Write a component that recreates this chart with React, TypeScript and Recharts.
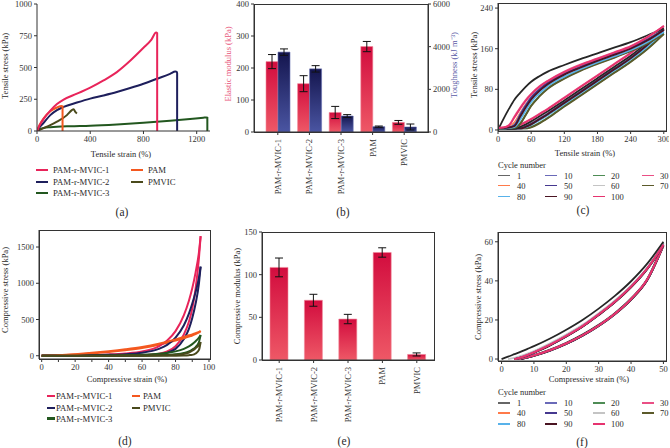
import React from 'react';
import { LineChart, Line, XAxis, YAxis, BarChart, Bar, ErrorBar } from 'recharts';

const FONT = '"Liberation Serif", "Times New Roman", Times, serif';
const AX = '#333';
const TXT = '#2a2a2a';

// ---------- colours ----------
const C_M1 = '#e8245a';
const C_M2 = '#1e1f5c';
const C_M3 = '#22571f';
const C_PAM = '#f4581f';
const C_PMVIC = '#4a4a1c';

// ---------- panel (a): tensile curves ----------
const aM1Strain = [0, 20, 50, 100, 150, 200, 300, 400, 500, 600, 700, 800, 860, 895, 903, 903];
const aM1Stress = [0, 45, 95, 160, 212, 247, 294, 341, 398, 464, 553, 655, 720, 775, 770, 0];
const aM2Strain = [0, 20, 50, 100, 150, 200, 300, 400, 500, 600, 700, 800, 900, 1000, 1040, 1050, 1053, 1053];
const aM2Stress = [0, 30, 65, 125, 164, 190, 224, 255, 280, 307, 338, 372, 411, 450, 468, 465, 455, 0];
const aM3Strain = [0, 20, 50, 100, 150, 250, 400, 600, 800, 1000, 1150, 1250, 1272, 1280, 1280];
const aM3Stress = [0, 15, 24, 30, 34, 38, 42, 52, 65, 81, 95, 105, 107, 105, 0];
const aPamStrain = [0, 20, 50, 100, 150, 185, 192, 192];
const aPamStress = [0, 50, 100, 155, 185, 196, 194, 0];
const aPmvicStrain = [0, 75, 150, 225, 262, 275, 288, 300];
const aPmvicStress = [0, 34, 73, 125, 164, 172, 150, 138];

// ---------- panel (b): elastic modulus & toughness ----------
const sampleNames = ['PAM-r-MVIC-1', 'PAM-r-MVIC-2', 'PAM-r-MVIC-3', 'PAM', 'PMVIC'];
const bModulus = [220, 151, 61, 267, 30];
const bModulusErr = [22, 25, 19, 16, 6];
const bTough = [3745, 2960, 750, 250, 235];
const bToughErr = [150, 150, 65, 30, 140];

// ---------- panel (c): tensile cycles ----------
const cycleLabels = ['1', '10', '20', '30', '40', '50', '60', '70', '80', '90', '100'];
const cycleColors = ['#262626', '#6a6ab8', '#4e8c55', '#ea4f85', '#ff7a4a', '#45388f', '#c4c4c4', '#5b5a2a', '#58b2ea', '#4a1422', '#e6336f'];
const legendSwatch = ['#666666', '#6a6ab8', '#4e8c55', '#ea4f85', '#ff7a4a', '#45388f', '#c4c4c4', '#5b5a2a', '#58b2ea', '#4a1422', '#e6336f'];

const cStrain = [0, 10, 20, 30, 40, 50, 60, 75, 90, 120, 150, 180, 210, 240, 270, 300];
const cLoad1 = [0, 22, 42, 60, 73, 85, 95, 106, 115, 128, 140, 151, 162, 173, 186, 200];
const cLoad10 = [3, 4, 5, 9, 27, 45, 61, 78, 91, 110, 124, 137, 149, 161, 177, 197];
const cLoad20 = [3, 3, 4, 5, 13, 30, 48, 67, 82, 102, 118, 131, 143, 156, 171, 190];
const cLoad30 = [4, 5, 10, 27, 44, 59, 71, 86, 97, 115, 129, 141, 153, 165, 183, 204];
const cLoad40 = [3, 4, 6, 15, 33, 50, 64, 80, 93, 112, 126, 139, 151, 163, 179, 199];
const cLoad50 = [3, 4, 5, 10, 30, 48, 64, 80, 93, 111, 125, 138, 150, 162, 178, 198];
const cLoad60 = [3, 4, 5, 11, 31, 49, 65, 81, 94, 112, 126, 139, 151, 163, 179, 199];
const cLoad70 = [3, 3, 4, 4, 12, 29, 47, 66, 81, 101, 117, 130, 142, 155, 170, 189];
const cLoad80 = [3, 3, 4, 6, 20, 38, 55, 72, 86, 105, 120, 133, 145, 157, 173, 193];
const cLoad90 = [3, 4, 5, 8, 26, 44, 60, 77, 90, 109, 123, 136, 148, 160, 176, 197];
const cLoad100 = [4, 5, 9, 25, 42, 57, 70, 85, 96, 114, 128, 140, 152, 164, 182, 205];

const cUnload1 = [2, 2, 2, 2, 6, 11, 17, 27, 37, 58, 80, 102, 124, 146, 172, 200];
const cUnload10 = [3, 3, 3, 3, 3, 6, 11, 20, 30, 52, 74, 96, 118, 140, 166, 197];
const cUnload20 = [3, 3, 3, 3, 3, 3, 6, 14, 24, 47, 69, 91, 113, 135, 160, 190];
const cUnload30 = [4, 4, 5, 7, 11, 16, 22, 32, 42, 64, 86, 108, 130, 152, 177, 204];
const cUnload40 = [3, 3, 3, 3, 4, 8, 13, 22, 32, 54, 76, 98, 120, 142, 168, 199];
const cUnload50 = [3, 3, 3, 3, 3, 7, 12, 22, 32, 54, 76, 98, 120, 142, 168, 198];
const cUnload60 = [3, 3, 3, 3, 4, 8, 13, 23, 33, 55, 77, 99, 121, 143, 168, 199];
const cUnload70 = [3, 3, 3, 3, 3, 3, 5, 13, 23, 46, 68, 90, 112, 134, 159, 189];
const cUnload80 = [3, 3, 3, 3, 3, 5, 10, 19, 29, 51, 73, 95, 117, 139, 164, 193];
const cUnload90 = [3, 3, 3, 3, 3, 6, 11, 21, 31, 53, 75, 97, 119, 141, 167, 197];
const cUnload100 = [4, 4, 5, 7, 10, 15, 21, 31, 41, 63, 85, 107, 129, 151, 177, 205];

// ---------- panel (d): compressive curves ----------
const dStrain = [0, 10, 20, 30, 40, 50, 60, 70, 75, 80, 85, 88, 90, 92, 94, 95];
const dM1Load = [0, 2, 5, 10, 18, 32, 60, 130, 210, 340, 560, 760, 930, 1150, 1430, 1650];
const dM1Unload = [0, 0, 0, 1, 1, 3, 8, 28, 60, 130, 295, 470, 650, 930, 1350, 1650];
const dM2Load = [0, 1, 3, 6, 12, 22, 42, 95, 150, 250, 420, 580, 720, 880, 1080, 1230];
const dM2Unload = [0, 0, 0, 0, 0, 2, 5, 18, 40, 95, 230, 370, 520, 720, 1000, 1230];
const dM3Load = [0, 0, 1, 2, 5, 9, 15, 28, 40, 60, 95, 130, 160, 200, 250, 285];
const dM3Unload = [0, 0, 0, 0, 0, 1, 3, 8, 13, 20, 38, 60, 85, 120, 190, 285];
const dPamLoad = [0, 8, 22, 40, 62, 88, 120, 165, 193, 225, 258, 282, 295, 312, 330, 340];
const dPamUnload = [0, 6, 17, 32, 52, 76, 106, 150, 178, 210, 242, 264, 280, 300, 322, 340];
const dPmvicLoad = [0, 0, 0, 0, 1, 2, 3, 6, 8, 12, 25, 45, 70, 105, 150, 190];
const dPmvicUnload = [0, 0, 0, 0, 0, 0, 0, 0, 0, 1, 4, 8, 12, 30, 80, 190];

// ---------- panel (e): compressive modulus ----------
const eModulus = [108.5, 70, 48, 126, 6.5];
const eModulusErr = [11, 7, 5.5, 5.5, 1.8];

// ---------- panel (f): compressive cycles ----------
const fStrain = [0, 2, 4, 6, 8, 10, 15, 20, 25, 30, 35, 40, 45, 50];
const fLoad1 = [0, 1.2, 2.5, 3.8, 5.2, 6.6, 10.5, 15, 20, 25.8, 32.3, 39.8, 48.8, 60];
const fLoad10 = [null, null, 0, 0.9, 2.1, 3.5, 7.4, 11.9, 16.9, 22.9, 29.4, 37.1, 46.4, 58.6];
const fLoad20 = [null, null, 0, 0.8, 2.0, 3.4, 7.3, 11.8, 16.8, 22.8, 29.3, 37.0, 46.3, 58.5];
const fLoad30 = [null, null, 0, 0.9, 2.1, 3.5, 7.4, 11.9, 16.9, 22.9, 29.4, 37.1, 46.4, 58.5];
const fLoad40 = [null, null, 0, 0.8, 2.0, 3.4, 7.2, 11.7, 16.7, 22.7, 29.2, 36.9, 46.2, 58.4];
const fLoad50 = [null, null, 0, 0.8, 1.9, 3.3, 7.2, 11.7, 16.7, 22.7, 29.2, 36.9, 46.2, 58.3];
const fLoad60 = [null, 0, 0.6, 1.6, 2.8, 4.1, 8.0, 12.5, 17.5, 23.5, 30.0, 37.6, 46.8, 59.0];
const fLoad70 = [null, null, 0, 0.7, 1.9, 3.3, 7.1, 11.6, 16.6, 22.6, 29.1, 36.8, 46.1, 58.2];
const fLoad80 = [null, null, 0, 0.7, 1.8, 3.2, 7.1, 11.6, 16.6, 22.6, 29.1, 36.8, 46.1, 58.2];
const fLoad90 = [null, null, 0, 0.7, 1.8, 3.2, 7.0, 11.5, 16.5, 22.5, 29.0, 36.7, 46.0, 58.1];
const fLoad100 = [null, null, 0, 0.8, 2.0, 3.4, 7.3, 11.8, 16.8, 22.8, 29.3, 37.0, 46.3, 58.5];

const fUnload1 = [null, null, 0, 0.4, 1.1, 2.0, 4.8, 8.3, 12.5, 17.5, 23.5, 31.0, 41.0, 59.2];
const fUnload10 = [null, null, 0, 0.3, 1.0, 1.9, 4.6, 8.0, 12.2, 17.2, 23.2, 30.7, 40.7, 58.4];
const fUnload20 = [null, null, null, 0, 0.8, 1.7, 4.4, 7.8, 12.0, 17.0, 23.0, 30.5, 40.5, 58.3];
const fUnload30 = [null, null, 0, 0.3, 1.0, 1.9, 4.6, 8.0, 12.2, 17.2, 23.2, 30.7, 40.8, 58.3];
const fUnload40 = [null, null, null, 0, 0.8, 1.7, 4.4, 7.8, 12.0, 17.0, 23.0, 30.5, 40.5, 58.2];
const fUnload50 = [null, null, null, 0, 0.8, 1.7, 4.4, 7.8, 12.0, 17.0, 23.0, 30.5, 40.4, 58.1];
const fUnload60 = [null, null, 0, 0.4, 1.1, 2.0, 4.7, 8.1, 12.3, 17.3, 23.3, 30.8, 40.8, 58.8];
const fUnload70 = [null, null, null, 0, 0.7, 1.6, 4.3, 7.7, 11.9, 16.9, 22.9, 30.4, 40.4, 58.0];
const fUnload80 = [null, null, null, 0, 0.7, 1.6, 4.3, 7.7, 11.9, 16.9, 22.9, 30.4, 40.4, 58.0];
const fUnload90 = [null, null, null, 0, 0.7, 1.6, 4.3, 7.7, 11.9, 16.9, 22.9, 30.3, 40.3, 57.9];
const fUnload100 = [null, null, 0, 0.3, 1.0, 1.9, 4.6, 8.0, 12.2, 17.2, 23.2, 30.7, 40.7, 58.3];

// ---------- helpers ----------
const zip = (xs: number[], ys: number[]) => xs.map((x, i) => ({ x, y: ys[i] }));

const cLoads = [cLoad1, cLoad10, cLoad20, cLoad30, cLoad40, cLoad50, cLoad60, cLoad70, cLoad80, cLoad90, cLoad100];
const cUnloads = [cUnload1, cUnload10, cUnload20, cUnload30, cUnload40, cUnload50, cUnload60, cUnload70, cUnload80, cUnload90, cUnload100];
const fLoads = [fLoad1, fLoad10, fLoad20, fLoad30, fLoad40, fLoad50, fLoad60, fLoad70, fLoad80, fLoad90, fLoad100];
const fUnloads = [fUnload1, fUnload10, fUnload20, fUnload30, fUnload40, fUnload50, fUnload60, fUnload70, fUnload80, fUnload90, fUnload100];
const drawOrder = [4, 6, 2, 1, 7, 8, 5, 9, 0, 3, 10];

function cycleTable(grid: number[], loads: (number | null)[][], unloads: (number | null)[][]) {
  return grid.map((x, i) => {
    const row: any = { x };
    cycleLabels.forEach((c, j) => {
      row['L' + c] = loads[j][i];
      row['U' + c] = unloads[j][i];
    });
    return row;
  });
}
const cData = cycleTable(cStrain, cLoads, cUnloads);
const fData = cycleTable(fStrain, fLoads, fUnloads);

const dSeries = [
  { key: 'm1', color: C_M1, load: dM1Load, unload: dM1Unload },
  { key: 'm2', color: C_M2, load: dM2Load, unload: dM2Unload },
  { key: 'pam', color: C_PAM, load: dPamLoad, unload: dPamUnload },
  { key: 'm3', color: C_M3, load: dM3Load, unload: dM3Unload },
  { key: 'pmvic', color: C_PMVIC, load: dPmvicLoad, unload: dPmvicUnload },
];
const dData = dStrain.map((x, i) => {
  const row: any = { x };
  dSeries.forEach((s) => {
    row[s.key + 'L'] = s.load[i];
    row[s.key + 'U'] = s.unload[i];
  });
  return row;
});

const aSeries = [
  { name: 'PAM-r-MVIC-3', color: C_M3, pts: zip(aM3Strain, aM3Stress) },
  { name: 'PMVIC', color: C_PMVIC, pts: zip(aPmvicStrain, aPmvicStress) },
  { name: 'PAM-r-MVIC-2', color: C_M2, pts: zip(aM2Strain, aM2Stress) },
  { name: 'PAM', color: C_PAM, pts: zip(aPamStrain, aPamStress) },
  { name: 'PAM-r-MVIC-1', color: C_M1, pts: zip(aM1Strain, aM1Stress) },
];

const bData = sampleNames.map((name, i) => ({
  name,
  mod: bModulus[i],
  modErr: bModulusErr[i],
  tough: bTough[i],
  toughErr: bToughErr[i],
}));
const eData = sampleNames.map((name, i) => ({ name, mod: eModulus[i], modErr: eModulusErr[i] }));

const tickStyle = { fontSize: 8.5, fontFamily: FONT, fill: '#333' };

type Rect = { x0: number; y0: number; x1: number; y1: number };
function place(r: Rect, L: number, T: number, R: number, B: number) {
  return {
    left: r.x0 - L,
    top: r.y0 - T,
    width: r.x1 - r.x0 + L + R,
    height: r.y1 - r.y0 + T + B,
  };
}

const Txt = ({ x, y, children, size = 8.5, color = TXT, rot = false, left = false }: any) => (
  <div
    style={{
      position: 'absolute',
      left: x,
      top: y,
      transform: `translate(${left ? '0' : '-50%'}, -50%)${rot ? ' rotate(-90deg)' : ''}`,
      fontFamily: FONT,
      fontSize: size,
      color,
      whiteSpace: 'nowrap',
      lineHeight: 1,
    }}
  >
    {children}
  </div>
);

const Swatch = ({ x, y, w, color, h = 2 }: any) => (
  <div style={{ position: 'absolute', left: x, top: y - h / 2, width: w, height: h, background: color }} />
);

const Box = ({ r }: { r: Rect }) => (
  <div
    style={{
      position: 'absolute',
      left: r.x0,
      top: r.y0,
      width: r.x1 - r.x0 + 1,
      height: r.y1 - r.y0 + 1,
      border: '1px solid #333',
      boxSizing: 'border-box',
      pointerEvents: 'none',
    }}
  />
);

const RotTick = (props: any) => {
  const { x, y, payload } = props;
  const yy = y + 2;
  return (
    <text
      x={x}
      y={yy}
      transform={`rotate(-90 ${x} ${yy})`}
      textAnchor="end"
      dominantBaseline="central"
      fontSize={8.5}
      fontFamily={FONT}
      fill="#333"
    >
      {payload.value}
    </text>
  );
};

const CycleLegend = ({ top }: { top: number }) => {
  const colX = [498, 545, 593, 642];
  const textX = [517, 564, 611, 660];
  const rowY = [top + 11, top + 21, top + 32];
  return (
    <>
      <Txt x={498} y={top} left size={8.5}>Cycle number</Txt>
      {cycleLabels.map((c, i) => {
        const r = Math.floor(i / 4);
        const col = i % 4;
        return (
          <React.Fragment key={c}>
            <Swatch x={colX[col]} y={rowY[r]} w={12} color={legendSwatch[i]} h={1.6} />
            <Txt x={textX[col]} y={rowY[r]} left size={8.5}>{c}</Txt>
          </React.Fragment>
        );
      })}
    </>
  );
};

// plot rectangles (page pixels)
const A: Rect = { x0: 37, y0: 4, x1: 210, y1: 131 };
const B: Rect = { x0: 254, y0: 4, x1: 428, y1: 132 };
const C: Rect = { x0: 498, y0: 3, x1: 666, y1: 131 };
const D: Rect = { x0: 39, y0: 230, x1: 210, y1: 359 };
const E: Rect = { x0: 262, y0: 232, x1: 434, y1: 360 };
const F: Rect = { x0: 498, y0: 232, x1: 666, y1: 361 };

export default function App() {
  const pa = place(A, 32, 6, 6, 16);
  const pb = place(B, 28, 6, 30, 64);
  const pc = place(C, 30, 6, 3, 16);
  const pd = place(D, 30, 6, 6, 16);
  const pe = place(E, 28, 6, 6, 64);
  const pf = place(F, 30, 6, 3, 16);

  return (
    <div style={{ position: 'absolute', left: 0, top: 0, width: 670, height: 448, background: '#fff', overflow: 'hidden' }}>
      {/* ---------- (a) ---------- */}
      <div style={{ position: 'absolute', left: pa.left, top: pa.top }}>
        <LineChart width={pa.width} height={pa.height} margin={{ top: 6, right: 6, left: 0, bottom: 0 }}>
          <XAxis type="number" dataKey="x" domain={[0, 1300]} ticks={[0, 400, 800, 1200]} interval={0} height={16} tickSize={3} tick={tickStyle} stroke={AX} allowDataOverflow />
          <YAxis type="number" dataKey="y" domain={[0, 1000]} ticks={[0, 250, 500, 750, 1000]} interval={0} width={32} tickSize={3} tick={tickStyle} stroke={AX} allowDataOverflow />
          {aSeries.map((s) => (
            <Line key={s.name} data={s.pts} dataKey="y" type="monotone" stroke={s.color} strokeWidth={2} dot={false} isAnimationActive={false} />
          ))}
        </LineChart>
      </div>
      <Txt x={5} y={66} rot>Tensile stress (kPa)</Txt>
      <Txt x={121} y={154}>Tensile strain (%)</Txt>
      <Swatch x={36} y={170} w={12} color={C_M1} />
      <Txt x={53} y={170} left size={8.7}>PAM-r-MVIC-1</Txt>
      <Swatch x={36} y={182} w={12} color={C_M2} />
      <Txt x={53} y={182} left size={8.7}>PAM-r-MVIC-2</Txt>
      <Swatch x={36} y={193} w={12} color={C_M3} />
      <Txt x={53} y={193} left size={8.7}>PAM-r-MVIC-3</Txt>
      <Swatch x={131} y={170} w={12} color={C_PAM} />
      <Txt x={148} y={170} left size={8.7}>PAM</Txt>
      <Swatch x={131} y={182} w={12} color={C_PMVIC} />
      <Txt x={148} y={182} left size={8.7}>PMVIC</Txt>
      <Txt x={122} y={213} size={11.5}>(a)</Txt>

      {/* ---------- (b) ---------- */}
      <div style={{ position: 'absolute', left: pb.left, top: pb.top }}>
        <BarChart width={pb.width} height={pb.height} data={bData} margin={{ top: 6, right: 0, left: 0, bottom: 0 }} barGap={0}>
          <defs>
            <linearGradient id="pinkGrad" x1="0" y1="0" x2="0" y2="1">
              <stop offset="0%" stopColor="#d20c3e" />
              <stop offset="100%" stopColor="#ee5866" />
            </linearGradient>
            <linearGradient id="navyGrad" x1="0" y1="0" x2="0" y2="1">
              <stop offset="0%" stopColor="#14154e" />
              <stop offset="100%" stopColor="#4a55a2" />
            </linearGradient>
          </defs>
          <XAxis dataKey="name" height={64} tickSize={3} tick={<RotTick />} interval={0} stroke={AX} padding={{ left: 8, right: 8 }} />
          <YAxis yAxisId="l" domain={[0, 400]} ticks={[0, 100, 200, 300, 400]} interval={0} width={28} tickSize={3} tick={tickStyle} stroke={AX} />
          <YAxis yAxisId="r" orientation="right" domain={[0, 6000]} ticks={[0, 2000, 4000, 6000]} interval={0} width={30} tickSize={3} tick={tickStyle} stroke={AX} />
          <Bar yAxisId="l" dataKey="mod" barSize={12} fill="url(#pinkGrad)" stroke="#f28a9a" strokeWidth={0.6} isAnimationActive={false}>
            <ErrorBar dataKey="modErr" width={4} stroke="#111" strokeWidth={1} direction="y" />
          </Bar>
          <Bar yAxisId="r" dataKey="tough" barSize={12} fill="url(#navyGrad)" stroke="#6a72b4" strokeWidth={0.6} isAnimationActive={false}>
            <ErrorBar dataKey="toughErr" width={4} stroke="#111" strokeWidth={1} direction="y" />
          </Bar>
        </BarChart>
      </div>
      <Box r={B} />
      <Txt x={228} y={64} rot color="#e8557a">Elastic modulus (kPa)</Txt>
      <Txt x={454} y={65} rot color="#5a5aa6">Toughness (kJ m⁻³)</Txt>
      <Txt x={343} y={213} size={11.5}>(b)</Txt>

      {/* ---------- (c) ---------- */}
      <div style={{ position: 'absolute', left: pc.left, top: pc.top }}>
        <LineChart width={pc.width} height={pc.height} data={cData} margin={{ top: 6, right: 3, left: 0, bottom: 0 }}>
          <XAxis type="number" dataKey="x" domain={[0, 304]} ticks={[0, 60, 120, 180, 240, 300]} interval={0} height={16} tickSize={3} tick={tickStyle} stroke={AX} allowDataOverflow />
          <YAxis type="number" domain={[-2, 250]} ticks={[0, 80, 160, 240]} interval={0} width={30} tickSize={3} tick={tickStyle} stroke={AX} allowDataOverflow />
          {drawOrder.map((j) => (
            <Line key={'U' + j} dataKey={'U' + cycleLabels[j]} type="monotone" stroke={cycleColors[j]} strokeWidth={1.8} dot={false} isAnimationActive={false} />
          ))}
          {drawOrder.map((j) => (
            <Line key={'L' + j} dataKey={'L' + cycleLabels[j]} type="monotone" stroke={cycleColors[j]} strokeWidth={1.8} dot={false} isAnimationActive={false} />
          ))}
        </LineChart>
      </div>
      <Box r={C} />
      <Txt x={474} y={65} rot>Tensile stress (kPa)</Txt>
      <Txt x={585} y={153}>Tensile strain (%)</Txt>
      <CycleLegend top={164.5} />
      <Txt x={583} y={211} size={11.5}>(c)</Txt>

      {/* ---------- (d) ---------- */}
      <div style={{ position: 'absolute', left: pd.left, top: pd.top }}>
        <LineChart width={pd.width} height={pd.height} data={dData} margin={{ top: 6, right: 6, left: 0, bottom: 0 }}>
          <XAxis type="number" dataKey="x" domain={[-1.6, 100.6]} ticks={[0, 10, 20, 30, 40, 50, 60, 70, 80, 90, 100]} interval={0} tickFormatter={(v: number) => (v % 20 === 0 ? String(v) : '')} height={16} tickSize={3} tick={tickStyle} stroke={AX} allowDataOverflow />
          <YAxis type="number" domain={[-45, 1735]} ticks={[0, 500, 1000, 1500]} interval={0} width={30} tickSize={3} tick={tickStyle} stroke={AX} allowDataOverflow />
          {dSeries.map((s) => (
            <Line key={s.key + 'U'} dataKey={s.key + 'U'} type="monotone" stroke={s.color} strokeWidth={2} dot={false} isAnimationActive={false} />
          ))}
          {dSeries.map((s) => (
            <Line key={s.key + 'L'} dataKey={s.key + 'L'} type="monotone" stroke={s.color} strokeWidth={2} dot={false} isAnimationActive={false} />
          ))}
        </LineChart>
      </div>
      <Box r={D} />
      <Txt x={5} y={290} rot>Compressive stress (kPa)</Txt>
      <Txt x={127} y={379}>Compressive strain (%)</Txt>
      <Swatch x={47} y={396} w={8} color={C_M1} h={2.4} />
      <Txt x={56} y={396} left size={8.7}>PAM-r-MVIC-1</Txt>
      <Swatch x={47} y={408} w={8} color={C_M2} h={2.4} />
      <Txt x={56} y={408} left size={8.7}>PAM-r-MVIC-2</Txt>
      <Swatch x={47} y={418.5} w={8} color={C_M3} h={2.4} />
      <Txt x={56} y={418.5} left size={8.7}>PAM-r-MVIC-3</Txt>
      <Swatch x={132} y={396} w={8} color={C_PAM} h={2.4} />
      <Txt x={143} y={396} left size={8.7}>PAM</Txt>
      <Swatch x={132} y={408} w={8} color={C_PMVIC} h={2.4} />
      <Txt x={143} y={408} left size={8.7}>PMVIC</Txt>
      <Txt x={125} y={442} size={11.5}>(d)</Txt>

      {/* ---------- (e) ---------- */}
      <div style={{ position: 'absolute', left: pe.left, top: pe.top }}>
        <BarChart width={pe.width} height={pe.height} data={eData} margin={{ top: 6, right: 6, left: 0, bottom: 0 }}>
          <defs>
            <linearGradient id="pinkGrad2" x1="0" y1="0" x2="0" y2="1">
              <stop offset="0%" stopColor="#d20c3e" />
              <stop offset="100%" stopColor="#ee5866" />
            </linearGradient>
          </defs>
          <XAxis dataKey="name" height={64} tickSize={3} tick={<RotTick />} interval={0} stroke={AX} />
          <YAxis domain={[0, 150]} ticks={[0, 50, 100, 150]} interval={0} width={28} tickSize={3} tick={tickStyle} stroke={AX} />
          <Bar dataKey="mod" barSize={18} fill="url(#pinkGrad2)" stroke="#f28a9a" strokeWidth={0.6} isAnimationActive={false}>
            <ErrorBar dataKey="modErr" width={4} stroke="#111" strokeWidth={1} direction="y" />
          </Bar>
        </BarChart>
      </div>
      <Box r={E} />
      <Txt x={237} y={296} rot>Compressive modulus (kPa)</Txt>
      <Txt x={344} y={442} size={11.5}>(e)</Txt>

      {/* ---------- (f) ---------- */}
      <div style={{ position: 'absolute', left: pf.left, top: pf.top }}>
        <LineChart width={pf.width} height={pf.height} data={fData} margin={{ top: 6, right: 3, left: 0, bottom: 0 }}>
          <XAxis type="number" dataKey="x" domain={[-1.1, 50.8]} ticks={[0, 10, 20, 30, 40, 50]} interval={0} height={16} tickSize={3} tick={tickStyle} stroke={AX} allowDataOverflow />
          <YAxis type="number" domain={[-1, 65]} ticks={[0, 20, 40, 60]} interval={0} width={30} tickSize={3} tick={tickStyle} stroke={AX} allowDataOverflow />
          {drawOrder.map((j) => (
            <Line key={'U' + j} dataKey={'U' + cycleLabels[j]} type="monotone" stroke={cycleColors[j]} strokeWidth={1.8} dot={false} isAnimationActive={false} />
          ))}
          {drawOrder.map((j) => (
            <Line key={'L' + j} dataKey={'L' + cycleLabels[j]} type="monotone" stroke={cycleColors[j]} strokeWidth={1.8} dot={false} isAnimationActive={false} />
          ))}
        </LineChart>
      </div>
      <Box r={F} />
      <Txt x={478} y={297} rot>Compressive stress (kPa)</Txt>
      <Txt x={589} y={379}>Compressive strain (%)</Txt>
      <CycleLegend top={392} />
      <Txt x={582} y={443} size={11.5}>(f)</Txt>
    </div>
  );
}
